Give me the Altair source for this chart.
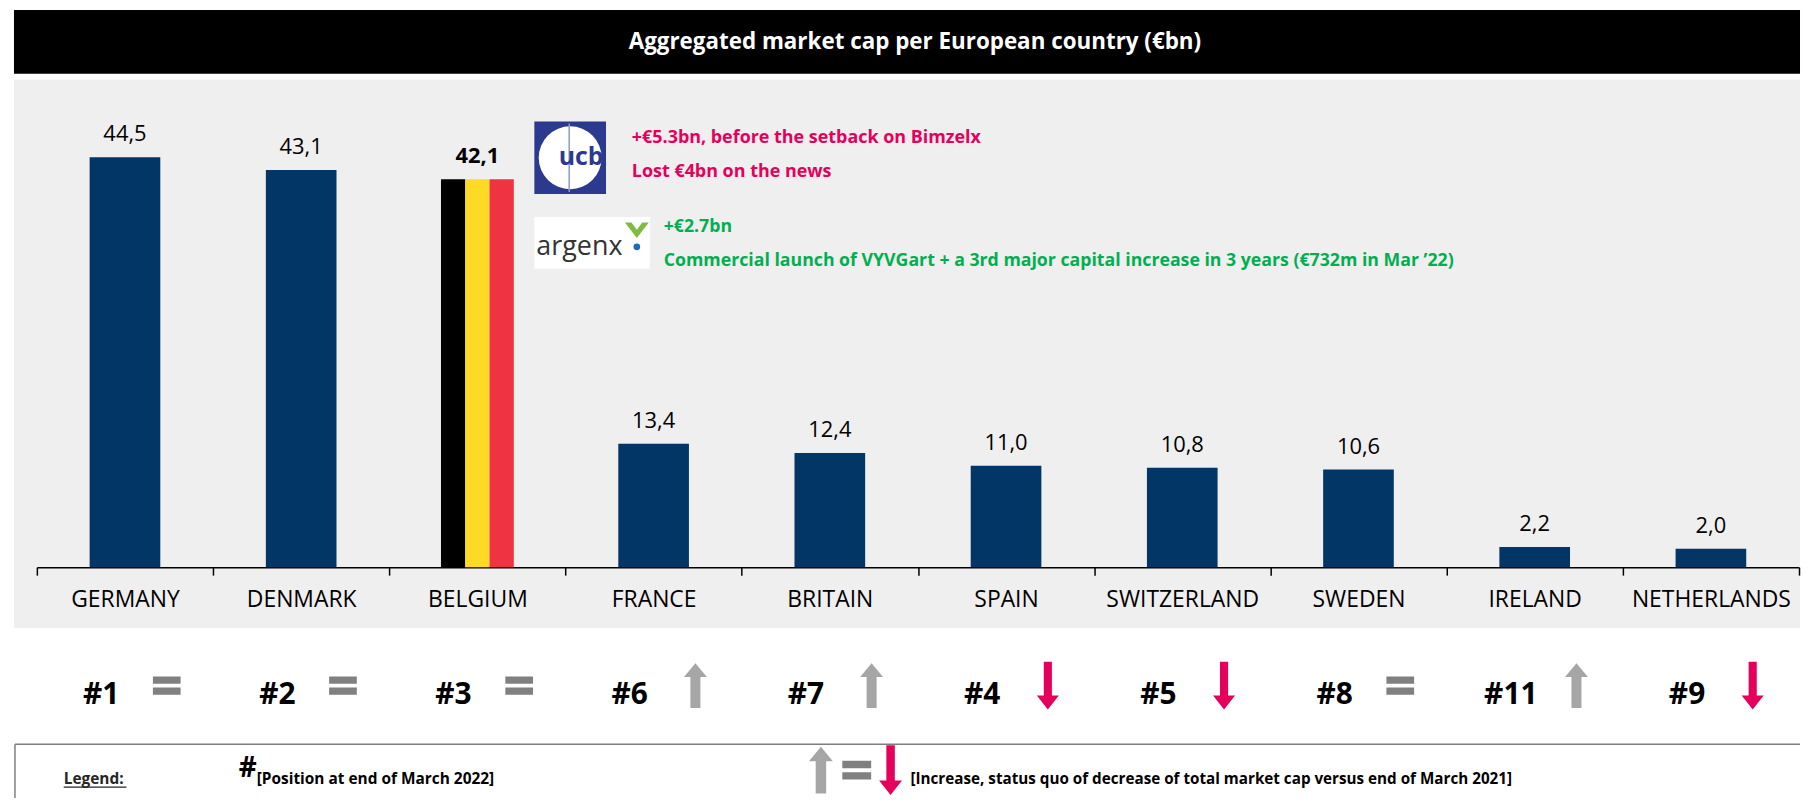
import altair as alt
import pandas as pd

# ---------------- data ----------------
countries = ["GERMANY", "DENMARK", "BELGIUM", "FRANCE", "BRITAIN", "SPAIN",
             "SWITZERLAND", "SWEDEN", "IRELAND", "NETHERLANDS"]
market_cap = [44.5, 43.1, 42.1, 13.4, 12.4, 11.0, 10.8, 10.6, 2.2, 2.0]
ranks = ["#1", "#2", "#3", "#6", "#7", "#4", "#5", "#8", "#11", "#9"]
trends = ["eq", "eq", "eq", "up", "up", "down", "down", "eq", "up", "down"]
highlight = "BELGIUM"
flag_colors = ["#000000", "#FDDA24", "#EF3340"]

title_text = "Aggregated market cap per European country (€bn)"
ucb_lines = ["+€5.3bn, before the setback on Bimzelx", "Lost €4bn on the news"]
argenx_lines = ["+€2.7bn",
                "Commercial launch of VYVGart + a 3rd major capital increase in 3 years (€732m in Mar ’22)"]
legend_label = "Legend:"
legend_rank_text = "[Position at end of March 2022]"
legend_trend_text = "[Increase, status quo of decrease of total market cap versus end of March 2021]"
legend_trends = ["up", "eq", "down"]

df = pd.DataFrame({"country": countries, "value": market_cap,
                   "rank": ranks, "trend": trends})
df["label"] = [f"{v:.1f}".replace(".", ",") for v in market_cap]
one = pd.DataFrame({"k": [0]})

# ---------------- styles ----------------
W = 1795
FONT = "Open Sans"
NAVY = "#023666"
PINK = "#E5005B"
GREEN = "#00B050"
UCB_BLUE = "#2B3A8E"
GRAY_UP = "#A6A6A6"
GRAY_EQ = "#808080"

x_scale = alt.Scale(domain=countries, range=[23, W - 1], paddingInner=0, paddingOuter=0)
y_scale = alt.Scale(domain=[-6.59, 52.92], nice=False, zero=False)

UP = "M0,-0.94L0.48,-0.36L0.21,-0.36L0.21,0.94L-0.21,0.94L-0.21,-0.36L-0.48,-0.36Z"
EQ = "M-0.58,-0.38L0.58,-0.38L0.58,-0.08L-0.58,-0.08Z M-0.58,0.08L0.58,0.08L0.58,0.38L-0.58,0.38Z"
DOWN = "M-0.17,-1L0.17,-1L0.17,0.42L0.46,0.42L0,1L-0.46,0.42L-0.17,0.42Z"
shape_scale = alt.Scale(domain=["up", "eq", "down"], range=[UP, EQ, DOWN])
color_scale = alt.Scale(domain=["up", "eq", "down"], range=[GRAY_UP, GRAY_EQ, PINK])

x_axis = alt.Axis(title=None, offset=-61, domainColor="black", domainWidth=1.5,
                  tickColor="black", tickWidth=1.5, tickSize=8, tickBand="extent",
                  labelFont=FONT, labelFontSize=23, labelColor="black",
                  labelPadding=14, labelAngle=0, grid=False)
x_enc = alt.X("country:N", scale=x_scale, axis=x_axis)
y_enc = alt.Y("value:Q", scale=y_scale, axis=None)

# ---------------- title panel ----------------
title_panel = alt.Chart(one).mark_text(
    text=title_text, color="white", font=FONT, fontWeight="bold", fontSize=22.5,
    baseline="middle", align="center"
).encode(x=alt.value(W / 2 + 8), y=alt.value(32)).properties(
    width=W, height=64, view=alt.ViewBackground(fill="black", strokeWidth=0))

# ---------------- main panel ----------------
base = alt.Chart(df)
bars = base.transform_filter(alt.datum.country != highlight).mark_bar(
    width=71, color=NAVY).encode(x=x_enc, y=y_enc, y2=alt.datum(0))

stripes = []
for i, c in enumerate(flag_colors):
    stripes.append(base.transform_filter(alt.datum.country == highlight).mark_bar(
        width=24.4, color=c, xOffset=(i - 1) * 24.4).encode(
        x=x_enc, y=y_enc, y2=alt.datum(0)))

labels = base.transform_filter(alt.datum.country != highlight).mark_text(
    font=FONT, fontSize=22, baseline="alphabetic", dy=-16, color="black"
).encode(x=x_enc, y=y_enc, text="label:N")
labels_hl = base.transform_filter(alt.datum.country == highlight).mark_text(
    font=FONT, fontSize=22, fontWeight="bold", baseline="alphabetic", dy=-16, color="black"
).encode(x=x_enc, y=y_enc, text="label:N")

ann = alt.Chart(one)
ucb_box = ann.mark_rect(color=UCB_BLUE).encode(
    x=alt.value(523), x2=alt.value(595), y=alt.value(42), y2=alt.value(115))
ucb_circle = ann.mark_point(shape="circle", filled=True, color="white", size=4000,
                            opacity=1).encode(x=alt.value(559), y=alt.value(78.5))
ucb_line = ann.mark_rule(color="#8C9BC8", strokeWidth=1.5).encode(
    x=alt.value(558), y=alt.value(44), y2=alt.value(113))
ucb_text = ann.mark_text(text="ucb", font=FONT, fontWeight="bold", fontSize=25,
                         color=UCB_BLUE, baseline="middle", align="center").encode(
    x=alt.value(570), y=alt.value(78))

pink = [ann.mark_text(text=t, font=FONT, fontWeight="bold", fontSize=18, color=PINK,
                      align="left", baseline="middle").encode(
    x=alt.value(621), y=alt.value(yy)) for t, yy in zip(ucb_lines, [59, 93])]

argenx_box = ann.mark_rect(color="white").encode(
    x=alt.value(523), x2=alt.value(639), y=alt.value(138), y2=alt.value(190))
argenx_text = ann.mark_text(text="argenx", font=FONT, fontSize=27, color="#333333",
                            align="left", baseline="alphabetic").encode(
    x=alt.value(525), y=alt.value(176))
argenx_check = ann.mark_point(
    shape="M-1,-0.7L-0.45,-0.7L0,-0.1L0.45,-0.7L1,-0.7L0,0.6Z", filled=True,
    color="#7DBB42", size=576, opacity=1).encode(x=alt.value(626), y=alt.value(152))
argenx_dot = ann.mark_point(shape="circle", filled=True, color="#1B6EB5", size=45,
                            opacity=1).encode(x=alt.value(626), y=alt.value(168))
green = [ann.mark_text(text=t, font=FONT, fontWeight="bold", fontSize=17.8, color=GREEN,
                       align="left", baseline="middle").encode(
    x=alt.value(653), y=alt.value(yy)) for t, yy in zip(argenx_lines, [148, 182])]

main_panel = alt.layer(
    bars, *stripes, labels, labels_hl,
    ucb_box, ucb_circle, ucb_line, ucb_text, *pink,
    argenx_box, argenx_text, argenx_check, argenx_dot, *green
).properties(width=W, height=551,
             view=alt.ViewBackground(fill="#EFEFEF", strokeWidth=0))

# ---------------- rank panel ----------------
x_plain = alt.X("country:N", scale=x_scale, axis=None)
rank_text = alt.Chart(df).mark_text(
    font=FONT, fontWeight="bold", fontSize=30, baseline="middle", align="center",
    dx=-24, dy=10, color="black").encode(x=x_plain, text="rank:N")
rank_sym = alt.Chart(df).mark_point(filled=True, size=2304, opacity=1, xOffset=42).encode(
    x=x_plain,
    shape=alt.Shape("trend:N", scale=shape_scale, legend=None),
    color=alt.Color("trend:N", scale=color_scale, legend=None))
rank_panel = alt.layer(rank_text, rank_sym).properties(
    width=W, height=104, view=alt.ViewBackground(strokeWidth=0))

# ---------------- legend panel ----------------
BORDER = "#7F7F7F"
leg_top = ann.mark_rule(color=BORDER, strokeWidth=1.5).encode(
    x=alt.value(1), x2=alt.value(W), y=alt.value(1))
leg_left = ann.mark_rule(color=BORDER, strokeWidth=1.5).encode(
    x=alt.value(1), y=alt.value(1), y2=alt.value(55))
leg_label = ann.mark_text(text=legend_label, font=FONT, fontWeight="bold", fontSize=15.5,
                          color="#262626", align="left", baseline="alphabetic").encode(
    x=alt.value(50), y=alt.value(41))
leg_underline = ann.mark_rule(color="#262626", strokeWidth=1.2).encode(
    x=alt.value(50), x2=alt.value(113), y=alt.value(44))
leg_hash = ann.mark_text(text="#", font=FONT, fontWeight="bold", fontSize=28,
                         color="black", align="left", baseline="alphabetic").encode(
    x=alt.value(226), y=alt.value(34))
leg_rank = ann.mark_text(text=legend_rank_text, font=FONT, fontWeight="bold", fontSize=15.5,
                         color="black", align="left", baseline="alphabetic").encode(
    x=alt.value(244), y=alt.value(41))
leg_syms = []
for t, px in zip(legend_trends, [811, 847, 881]):
    leg_syms.append(alt.Chart(pd.DataFrame({"trend": [t]})).mark_point(
        filled=True, size=2500, opacity=1).encode(
        x=alt.value(px), y=alt.value(27),
        shape=alt.Shape("trend:N", scale=shape_scale, legend=None),
        color=alt.Color("trend:N", scale=color_scale, legend=None)))
leg_trend = ann.mark_text(text=legend_trend_text, font=FONT, fontWeight="bold", fontSize=15.3,
                          color="black", align="left", baseline="alphabetic").encode(
    x=alt.value(901), y=alt.value(41))
legend_panel = alt.layer(
    leg_top, leg_left, leg_label, leg_underline, leg_hash, leg_rank, *leg_syms, leg_trend
).properties(width=W, height=55, view=alt.ViewBackground(strokeWidth=0))

chart = alt.vconcat(
    title_panel, main_panel, rank_panel, legend_panel, spacing=6, bounds="flush"
).properties(
    padding={"left": 6, "top": 0, "right": 0, "bottom": 0}, background="white"
).configure_view(strokeWidth=0)

chart.save("out.html", embed_options={"renderer": "svg", "actions": False})
